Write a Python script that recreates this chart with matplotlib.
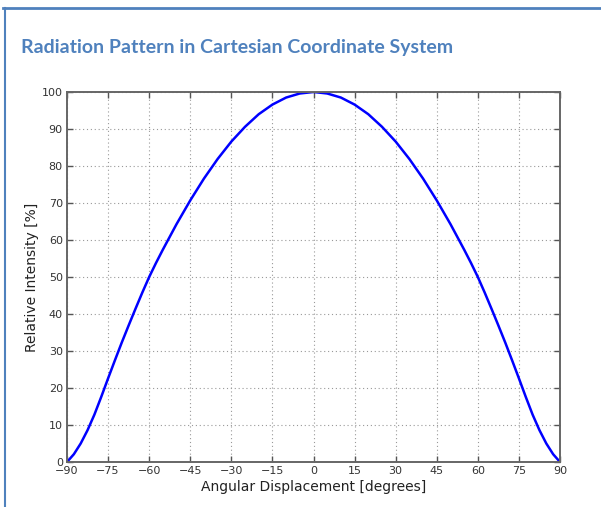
import numpy as np
import matplotlib.pyplot as plt
from matplotlib.lines import Line2D

# angles
angles = [-90, -87.5, -85, -82.5, -80, -77.5, -75, -72.5, -70, -67.5, -65,
          -62.5, -60, -57.5, -55, -50, -45, -40, -35, -30, -25, -20, -15,
          -10, -5, 0, 5, 10, 15, 20, 25, 30, 35, 40, 45, 50, 55, 57.5, 60,
          62.5, 65, 67.5, 70, 72.5, 75, 77.5, 80, 82.5, 85, 87.5, 90]
# relative intensity [%] at each angle
intensity = [0, 2.1, 5.0, 8.6, 12.8, 17.6, 22.6, 27.5, 32.3, 36.9, 41.4,
             45.8, 50, 53.8, 57.4, 64.3, 70.7, 76.6, 81.9, 86.6, 90.6, 94.0,
             96.6, 98.5, 99.6, 100, 99.6, 98.5, 96.6, 94.0, 90.6, 86.6, 81.9,
             76.6, 70.7, 64.3, 57.4, 53.8, 50, 45.8, 41.4, 36.9, 32.3, 27.5,
             22.6, 17.6, 12.8, 8.6, 5.0, 2.1, 0]

xticks = [-90, -75, -60, -45, -30, -15, 0, 15, 30, 45, 60, 75, 90]
yticks = [0, 10, 20, 30, 40, 50, 60, 70, 80, 90, 100]

title = "Radiation Pattern in Cartesian Coordinate System"

fig = plt.figure(figsize=(6.01, 5.07), dpi=100)
fig.patch.set_facecolor('white')

# frame of the document box (blue lines top and left)
frame_col = '#4f81bd'
fig.add_artist(Line2D([3 / 601, 1], [1 - 7.5 / 507, 1 - 7.5 / 507],
                      color=frame_col, lw=2, transform=fig.transFigure))
fig.add_artist(Line2D([4.5 / 601, 4.5 / 601], [0, 1 - 7.5 / 507],
                      color=frame_col, lw=1.5, transform=fig.transFigure))

fig.text(21 / 601, 1 - 53 / 507, title, color='#4f81bd', fontsize=14,
         fontweight='bold', family='Lato', va='baseline', ha='left')

ax = fig.add_axes([67 / 601, 1 - 462 / 507, (560 - 67) / 601, (462 - 92) / 507])
ax.plot(angles, intensity, color='#0000ff', lw=1.8, solid_capstyle='round',
        solid_joinstyle='round')

ax.set_xlim(-90, 90)
ax.set_ylim(0, 100)
ax.set_xticks(xticks)
ax.set_yticks(yticks)
ax.set_xticklabels(['\u2212' + str(-t) if t < 0 else str(t) for t in xticks])
ax.grid(True, color='#999999', linestyle=(0, (1, 2.5)), lw=0.8)
ax.tick_params(direction='in', top=True, right=True, length=4, width=1,
               color='#555555', labelsize=8, labelcolor='#333333', pad=3)
for s in ax.spines.values():
    s.set_color('#666666')
    s.set_linewidth(1.4)

ax.set_xlabel('Angular Displacement [degrees]', fontsize=10, color='#222222',
              labelpad=3)
ax.set_ylabel('Relative Intensity [%]', fontsize=10, color='#222222',
              labelpad=2)

fig.savefig('out.png', dpi=100)
